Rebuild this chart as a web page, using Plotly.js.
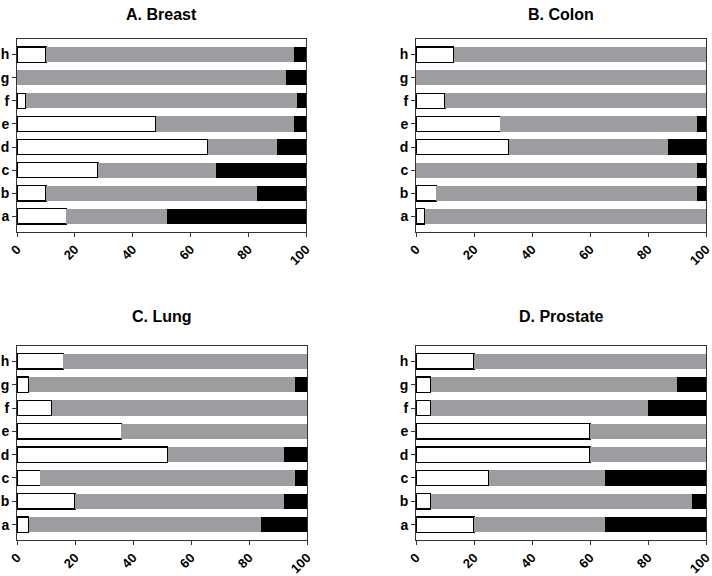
<!DOCTYPE html>
<html><head><meta charset="utf-8">
<script src="https://cdn.plot.ly/plotly-3.0.1.min.js"></script>
<style>html,body{margin:0;padding:0;background:#fff}#chart{width:712px;height:576px}</style>
</head><body><div id="chart"></div>
<script>
const categories = ['a','b','c','d','e','f','g','h'];
const panelTitles = ['A. Breast','B. Colon','C. Lung','D. Prostate'];
// [white, gray, black] per category a..h
const breastWhite = [17,10,28,66,48,3,0,10];
const breastGray  = [35,73,41,24,48,94,93,86];
const breastBlack = [48,17,31,10,4,3,7,4];
const colonWhite = [3,7,0,32,29,10,0,13];
const colonGray  = [97,90,97,55,68,90,100,87];
const colonBlack = [0,3,3,13,3,0,0,0];
const lungWhite = [4,20,8,52,36,12,4,16];
const lungGray  = [80,72,88,40,64,88,92,84];
const lungBlack = [16,8,4,8,0,0,4,0];
const prostateWhite = [20,5,25,60,60,5,5,20];
const prostateGray  = [45,90,40,40,40,75,85,80];
const prostateBlack = [35,5,35,0,0,20,10,0];
const xTicks = [0,20,40,60,80,100];

const panels = [
  [breastWhite, breastGray, breastBlack],
  [colonWhite, colonGray, colonBlack],
  [lungWhite, lungGray, lungBlack],
  [prostateWhite, prostateGray, prostateBlack]
];
const fills = ['#ffffff','#9d9da1','#000000'];
const lineW = [1.2,0,0];
const W=712,H=576;
const xDom = [[17/W,306/W],[416/W,706/W],[17/W,307/W],[416/W,706/W]];
const yDom = [[1-231.7/H,1-39.3/H],[1-231.7/H,1-39.3/H],[1-540/H,1-346/H],[1-540/H,1-346/H]];
const traces=[]; const layout={width:W,height:H,margin:{l:0,r:0,t:0,b:0},barmode:'stack',bargap:0.34,
  showlegend:false,paper_bgcolor:'#fff',plot_bgcolor:'#fff',annotations:[],font:{family:'Liberation Sans, Arial, sans-serif',color:'#000'}};
panels.forEach((p,i)=>{
  const n=i+1; const xa='x'+(n===1?'':n), ya='y'+(n===1?'':n);
  p.forEach((vals,k)=>{
    traces.push({type:'bar',orientation:'h',x:vals,y:categories,xaxis:xa,yaxis:ya,
      marker:{color:fills[k],line:{color:'#000',width:lineW[k]}},hoverinfo:'none'});
  });
  const axCommon={showline:true,mirror:true,linecolor:'#333',linewidth:1,ticks:'outside',ticklen:4,tickcolor:'#333',
    showgrid:false,zeroline:false,fixedrange:true,ticklabeloverflow:'allow'};
  layout['xaxis'+(n===1?'':n)]=Object.assign({},axCommon,{domain:xDom[i],anchor:ya,range:[0,100],tickvals:xTicks,
    ticktext:xTicks.map(String),tickangle:-45,tickfont:{size:13,family:'Liberation Sans, Arial, sans-serif',weight:'bold'}});
  layout['yaxis'+(n===1?'':n)]=Object.assign({},axCommon,{domain:yDom[i],anchor:xa,type:'category',range:[-0.66,7.66],
    categoryorder:'array',categoryarray:categories,tickfont:{size:14,family:'Liberation Sans, Arial, sans-serif',weight:'bold'}});
  const cx=(xDom[i][0]+xDom[i][1])/2;
  layout.annotations.push({text:'<b>'+panelTitles[i]+'</b>',xref:'paper',yref:'paper',x:cx,y:i<2?1-14/H:1-316/H,
    xanchor:'center',yanchor:'middle',showarrow:false,font:{size:16,family:'Liberation Sans, Arial, sans-serif',color:'#000'}});
});
Plotly.newPlot('chart',traces,layout,{staticPlot:true});
</script></body></html>
